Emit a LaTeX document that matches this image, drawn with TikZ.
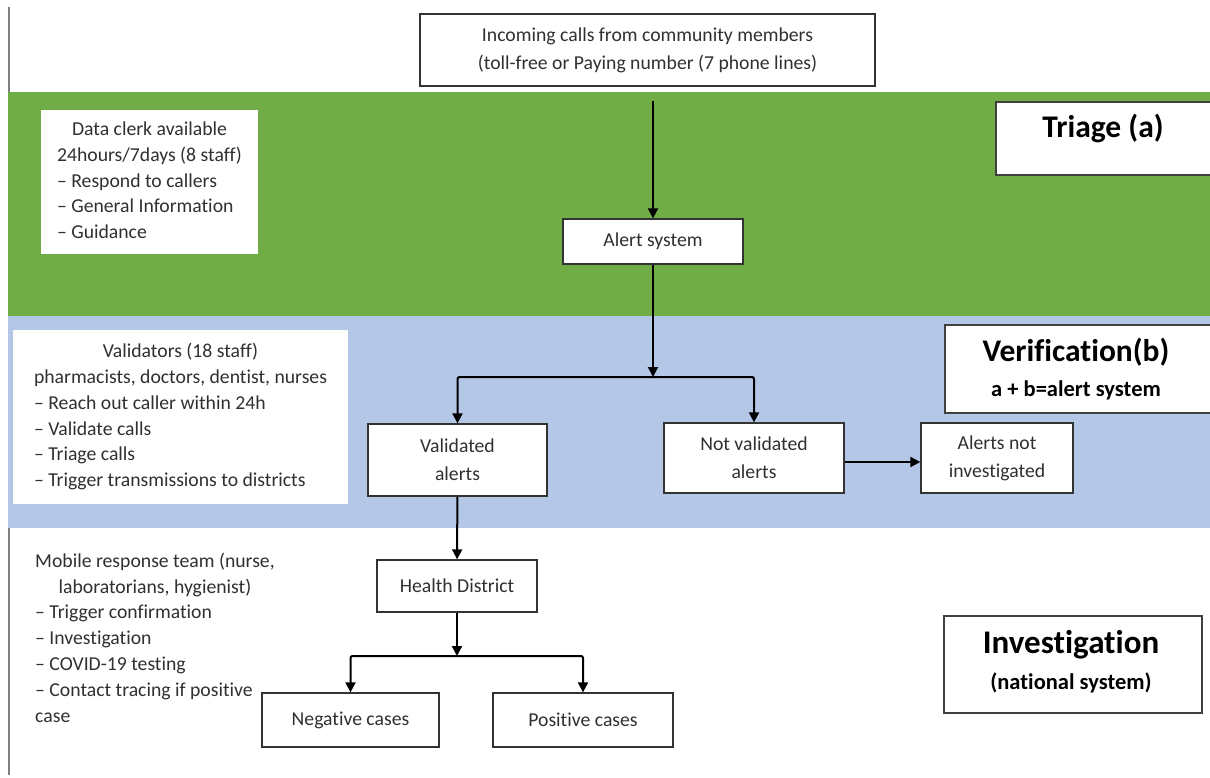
\documentclass[tikz,border=0pt]{standalone}
\usepackage{fontspec}
\setmainfont{Carlito}[Ligatures={NoCommon,NoContextual}, Contextuals={NoAlternate}]
\usetikzlibrary{arrows.meta}
\definecolor{bandgreen}{HTML}{70AD47}
\definecolor{bandblue}{HTML}{B4C7E7}
\definecolor{txt}{HTML}{303030}
\newcommand\fs{\fontsize{19.7}{28}\selectfont}
\newcommand\lst{\fontsize{19.7}{25.8}\selectfont}
\newcommand\ttl{\fontsize{31.5}{36}\selectfont\bfseries}
\newcommand\sub{\fontsize{22.5}{26}\selectfont\bfseries}
\newcommand\tI{t\kern0pt i}
\tikzset{
  flowbox/.style={draw=black!80, line width=1.3pt, fill=white, font=\fs, text=txt, align=center, inner sep=0pt},
  panel/.style={fill=white, inner sep=0pt, text=txt},
  titlebox/.style={draw=black!75, line width=1.5pt, fill=white, inner sep=0pt},
  titletext/.style={inner sep=0pt, text=black},
  arr/.style={line width=2pt, draw=black, -{Triangle[length=10pt,width=10pt]}},
}
\begin{document}
\begin{tikzpicture}[x=1pt,y=-1pt]
\clip (0,0) rectangle (1210,778);
\fill[white] (0,0) rectangle (1210,778);
% left rule and bands
\draw[black!50, line width=2pt] (9,7) -- (9,775);
\fill[bandgreen] (8,92) rectangle (1210,316);
\fill[bandblue] (8,316) rectangle (1210,528);

% top box
\node[flowbox, minimum width=455, minimum height=72] (calls) at (647.5,50)
  {Incoming calls from community members\\(toll-free or Paying number (7 phone lines)};

% panels
\node[panel, minimum width=217, minimum height=144] (clerk) at (149.5,182)
  {\lst\begin{tabular}{@{}l@{}}
   \multicolumn{1}{@{}c@{}}{Data clerk available}\\
   24hours/7days (8 staff)\\
   – Respond to callers\\
   – General Informa\tI on\\
   – Guidance
   \end{tabular}};
\node[panel, minimum width=335, minimum height=174] (valid) at (180.5,417)
  {\lst\begin{tabular}{@{}l@{}}
   \multicolumn{1}{@{}c@{}}{Validators (18 staff)}\\
   pharmacists, doctors, den\tI st, nurses\\
   – Reach out caller within 24h\\
   – Validate calls\\
   – Triage calls\\
   – Trigger transmissions to districts
   \end{tabular}};
\node[inner sep=0pt, anchor=north west, text=txt] (mobile) at (35,549)
  {\lst\begin{tabular}{@{}l@{}}
   \multicolumn{1}{@{}c@{}}{Mobile response team (nurse,}\\
   \multicolumn{1}{@{}c@{}}{laboratorians, hygienist)}\\
   – Trigger confirma\tI on\\
   – Inves\tI ga\tI on\\
   – COVID-19 tes\tI ng\\
   – Contact tracing if posi\tI ve\\
   case
   \end{tabular}};

% flow nodes
\node[flowbox, minimum width=180, minimum height=45] (alert) at (653,241.5) {Alert system};
\node[flowbox, minimum width=179, minimum height=72] (val) at (457.5,460) {Validated\\alerts};
\node[flowbox, minimum width=180, minimum height=70] (nval) at (754,458) {Not validated\\alerts};
\node[flowbox, minimum width=152, minimum height=70] (ani) at (997,458) {Alerts not\\inves\tI gated};
\node[flowbox, minimum width=160, minimum height=52] (hd) at (457,586) {Health District};
\node[flowbox, minimum width=177, minimum height=54] (neg) at (350.5,720) {Nega\tI ve cases};
\node[flowbox, minimum width=180, minimum height=54] (pos) at (583,720) {Posi\tI ve cases};

% title boxes
\node[titlebox, minimum width=220, minimum height=73] (triagebox) at (1106,138.5) {};
\node[titletext, font=\ttl] (triage) at (1103,128) {Triage (a)};
\node[titlebox, minimum width=270, minimum height=88] (verifbox) at (1080,369) {};
\node[titletext, font=\ttl] (verif) at (1076,352) {Verifica\tI on(b)};
\node[titletext, font=\sub] (verifsub) at (1076,390) {a + b=alert system};
\node[titlebox, minimum width=258, minimum height=97] (invbox) at (1073,664.5) {};
\node[titletext, font=\fontsize{33}{38}\selectfont\bfseries] (inv) at (1071,645) {Inves\tI ga\tI on};
\node[titletext, font=\sub] (invsub) at (1071,683) {(na\tI onal system)};

% connectors
\coordinate (start) at (653,101);
\coordinate (j1) at (653,377);
\coordinate (j2) at (457,656);
\draw[arr] (start) -- (alert);
\draw[arr] (alert) -- (j1);
\draw[arr, rounded corners=2pt] (j1) -| (val);
\draw[arr, rounded corners=2pt] (j1) -| (nval);
\draw[arr] ([yshift=-4pt]nval.east) -- ([yshift=-4pt]ani.west);
\draw[arr] (val) -- (hd);
\draw[arr] (hd) -- (j2);
\draw[arr, rounded corners=2pt] (j2) -| (neg);
\draw[arr, rounded corners=2pt] (j2) -| (pos);
\end{tikzpicture}
\end{document}
